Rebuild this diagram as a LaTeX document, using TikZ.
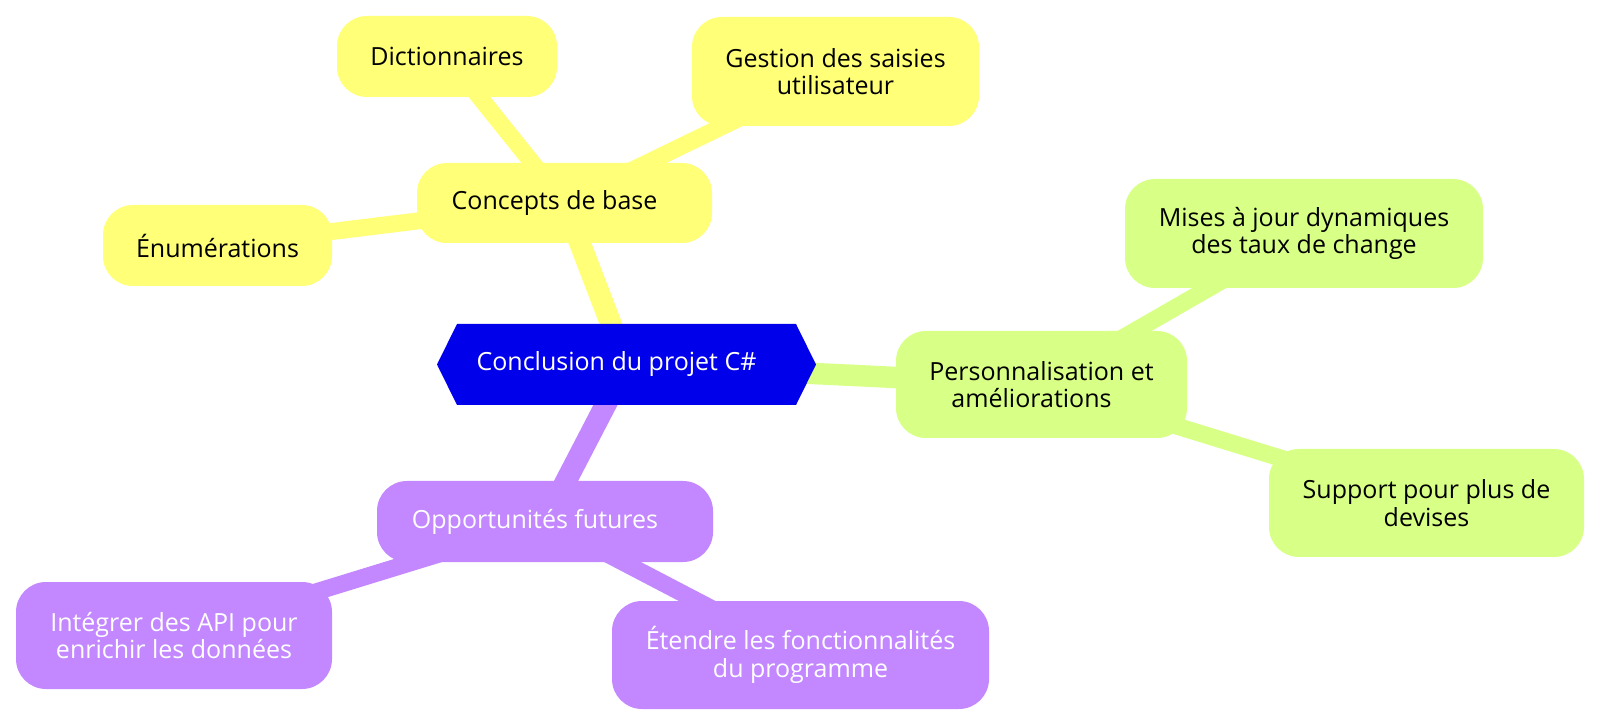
\documentclass[tikz,border=0pt]{standalone}
\usepackage{fontspec}
\setmainfont{Open Sans}
\usetikzlibrary{backgrounds}

\definecolor{mmblue}{HTML}{0000EA}
\definecolor{mmyellow}{HTML}{FFFF78}
\definecolor{mmgreen}{HTML}{D8FF86}
\definecolor{mmpurple}{HTML}{C387FF}
\newcommand{\mmfont}{\fontsize{12.5}{13.75}\selectfont}

\begin{document}
\begin{tikzpicture}[
      x=0.5pt, y=-0.5pt,
      every node/.style = {font=\mmfont, align=center, inner sep=0pt, outer sep=0pt},
      boxsize/.style 2 args = {minimum width=#1*0.5pt, minimum height=#2*0.5pt},
      topic/.style = {rounded corners=15pt, text=black},
      concept/.style = {topic, fill=mmyellow},
      custom/.style = {topic, fill=mmgreen},
      future/.style = {topic, fill=mmpurple, text=white},
      rootedge/.style = {line width=10.75pt},
      leafedge/.style = {line width=8.5pt}
    ]
    \useasboundingbox (0,0) rectangle (1600,726);

    \node (root) [boxsize={339}{81}, text=white] at (626.5,364.5) {Conclusion du projet C\#\hspace*{10pt}};

    \node (concepts) [concept, boxsize={295}{80}]  at (564.5,203)   {Concepts de base\hspace*{10pt}};
    \node (dict)     [concept, boxsize={220}{81}]  at (447,56.5)    {Dictionnaires};
    \node (saisies)  [concept, boxsize={287}{109}] at (835.5,71.5)  {Gestion des saisies\\utilisateur};
    \node (enums)    [concept, boxsize={229}{81}]  at (217.5,245.5) {Énumérations};

    \node (perso)    [custom, boxsize={291}{107}]  at (1041.5,384.5) {Personnalisation et\\améliorations\hspace*{10pt}};
    \node (taux)     [custom, boxsize={358}{109}]  at (1304,233.5)   {Mises à jour dynamiques\\des taux de change};
    \node (devises)  [custom, boxsize={315}{108}]  at (1426.5,503)   {Support pour plus de\\devises};

    \node (futur)    [future, boxsize={336}{81}]   at (545,521.5)   {Opportunités futures\hspace*{10pt}};
    \node (api)      [future, boxsize={316}{107}]  at (174,635.5)   {Intégrer des API pour\\enrichir les données};
    \node (etendre)  [future, boxsize={377}{108}]  at (800.5,655)   {Étendre les fonctionnalités\\du programme};

    \begin{scope}[on background layer]
      \draw[rootedge, mmyellow] (root.center)     -- (concepts.center);
      \draw[leafedge, mmyellow] (concepts.center) -- (dict.center);
      \draw[leafedge, mmyellow] (concepts.center) -- (saisies.center);
      \draw[leafedge, mmyellow] (concepts.center) -- (enums.center);

      \draw[rootedge, mmgreen]  (root.center)     -- (perso.center);
      \draw[leafedge, mmgreen]  (perso.center)    -- (taux.center);
      \draw[leafedge, mmgreen]  (perso.center)    -- (devises.center);

      \draw[rootedge, mmpurple] (root.center)     -- (futur.center);
      \draw[leafedge, mmpurple] (futur.center)    -- (api.center);
      \draw[leafedge, mmpurple] (futur.center)    -- (etendre.center);

      % hexagon behind the root text
      \fill[mmblue] (root.north west) -- (root.north east) -- ([xshift=10pt]root.east)
        -- (root.south east) -- (root.south west) -- ([xshift=-10pt]root.west) -- cycle;
    \end{scope}
\end{tikzpicture}
\end{document}
